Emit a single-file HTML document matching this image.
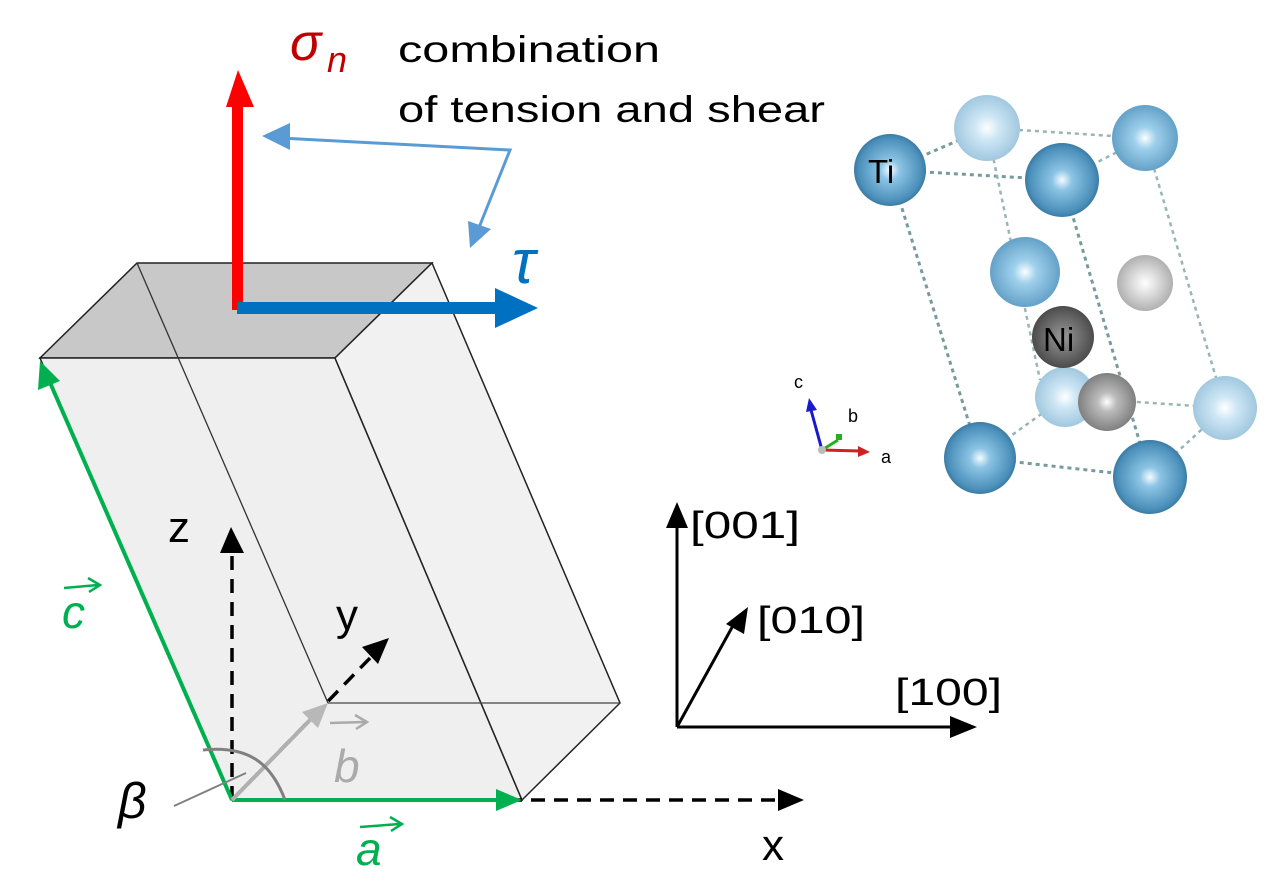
<!DOCTYPE html>
<html><head><meta charset="utf-8"><style>
html,body{margin:0;padding:0;background:#fff;}
svg{display:block;}
text{font-family:"Liberation Sans","DejaVu Sans",sans-serif;}
</style></head><body>
<svg width="1278" height="884" viewBox="0 0 1278 884" xmlns="http://www.w3.org/2000/svg">
<defs>
<radialGradient id="bd" cx="0.5" cy="0.5" r="0.55"><stop offset="0" stop-color="#f4fcff"/><stop offset="0.25" stop-color="#8cc4e4"/><stop offset="0.8" stop-color="#4a8fba"/><stop offset="1" stop-color="#2f6a90"/></radialGradient>
<radialGradient id="bm" cx="0.5" cy="0.5" r="0.55"><stop offset="0" stop-color="#fbfeff"/><stop offset="0.3" stop-color="#9fd0ec"/><stop offset="1" stop-color="#5b9ac2"/></radialGradient>
<radialGradient id="bl" cx="0.5" cy="0.5" r="0.55"><stop offset="0" stop-color="#ffffff"/><stop offset="0.35" stop-color="#cde6f4"/><stop offset="1" stop-color="#9ac3dc"/></radialGradient>
<radialGradient id="gl" cx="0.5" cy="0.5" r="0.55"><stop offset="0" stop-color="#fff"/><stop offset="0.4" stop-color="#ddd"/><stop offset="1" stop-color="#a8a8a8"/></radialGradient>
<radialGradient id="gm" cx="0.5" cy="0.5" r="0.55"><stop offset="0" stop-color="#fff"/><stop offset="0.3" stop-color="#bbb"/><stop offset="1" stop-color="#777"/></radialGradient>
<radialGradient id="gd" cx="0.5" cy="0.5" r="0.6"><stop offset="0" stop-color="#999"/><stop offset="1" stop-color="#3c3c3c"/></radialGradient>
</defs>

<!-- prism -->
<polygon points="137,263 432,263 335,358 40,358" fill="#c8c8c8" stroke="#222" stroke-width="1.5"/>
<polygon points="40,358 335,358 522,800 232,800" fill="#efefef" stroke="#222" stroke-width="1.5"/>
<polygon points="335,358 432,263 620,703 522,800" fill="#f1f1f1" stroke="#222" stroke-width="1.5"/>
<line x1="137" y1="263" x2="328" y2="703" stroke="#333" stroke-width="1.3"/>
<line x1="328" y1="703" x2="620" y2="703" stroke="#444" stroke-width="1.3"/>

<!-- stress arrows -->
<rect x="232" y="105" width="11" height="205" fill="#ff0000"/>
<polygon points="226,107 238,70 254,107" fill="#ff0000"/>
<rect x="237" y="302" width="260" height="12" fill="#0070c0"/>
<polygon points="495,288 538,308 495,328" fill="#0070c0"/>
<polyline points="280,138 510,150 478,230" fill="none" stroke="#5b9bd5" stroke-width="3"/>
<polygon points="262,136 290,123 290,150" fill="#5b9bd5"/>
<polygon points="470,248 468,221 491,229" fill="#5b9bd5"/>

<text x="290" y="60" font-family="Liberation Serif" font-style="italic" font-size="52" fill="#c00000">σ</text>
<text x="327" y="72" font-family="Liberation Serif" font-style="italic" font-size="36" fill="#c00000">n</text>
<text x="398" y="62" font-size="37" fill="#000" textLength="262" lengthAdjust="spacingAndGlyphs">combination</text>
<text x="398" y="122" font-size="37" fill="#000" textLength="427" lengthAdjust="spacingAndGlyphs">of tension and shear</text>
<text x="512" y="283" font-family="Liberation Serif" font-style="italic" font-size="62" fill="#0070c0">τ</text>

<!-- local axes -->
<g stroke="#000" stroke-width="3.5" stroke-dasharray="14,9" fill="none">
<line x1="232" y1="800" x2="232" y2="550"/>
<line x1="232" y1="800" x2="372" y2="656"/>
<line x1="232" y1="800" x2="780" y2="800"/>
</g>
<polygon points="220,553 231,527 244,553" fill="#000"/>
<polygon points="362,647 389,638 378,664" fill="#000"/>
<polygon points="778,789 804,800 778,811" fill="#000"/>
<text x="168" y="542" font-size="44">z</text>
<text x="336" y="630" font-size="44">y</text>
<text x="762" y="860" font-size="44">x</text>

<!-- green lattice -->
<line x1="232" y1="800" x2="48" y2="378" stroke="#00b050" stroke-width="4"/>
<polygon points="40,361 38,390 60,381" fill="#00b050"/>
<line x1="232" y1="800" x2="500" y2="800" stroke="#00b050" stroke-width="4"/>
<polygon points="496,789 522,800 496,811" fill="#00b050"/>
<line x1="232" y1="800" x2="312" y2="718" stroke="#b0b0b0" stroke-width="4"/>
<polygon points="328,703 302,712 318,728" fill="#b8b8b8"/>
<path d="M203,750 C250,745 272,765 285,800" fill="none" stroke="#808080" stroke-width="3"/>
<line x1="174" y1="806" x2="246" y2="773" stroke="#808080" stroke-width="2"/>

<text x="62" y="628" font-size="46" font-style="italic" fill="#00b050">c</text>
<line x1="64" y1="588" x2="98" y2="585" stroke="#00b050" stroke-width="2.5"/>
<polyline points="88,578 100,585 89,592" fill="none" stroke="#00b050" stroke-width="2.5"/>
<text x="356" y="865" font-size="46" font-style="italic" fill="#00b050">a</text>
<line x1="360" y1="827" x2="400" y2="824" stroke="#00b050" stroke-width="2.5"/>
<polyline points="390,817 402,824 391,831" fill="none" stroke="#00b050" stroke-width="2.5"/>
<text x="334" y="782" font-size="46" font-style="italic" fill="#aaaaaa">b</text>
<line x1="330" y1="723" x2="365" y2="722" stroke="#aaaaaa" stroke-width="2.5"/>
<polyline points="355,715 367,722 356,729" fill="none" stroke="#aaaaaa" stroke-width="2.5"/>
<text x="118" y="818" font-family="Liberation Serif" font-style="italic" font-size="50">β</text>

<!-- right axes -->
<g stroke="#000" stroke-width="3" fill="none">
<line x1="677" y1="727" x2="677" y2="525"/>
<line x1="677" y1="727" x2="955" y2="727"/>
<line x1="677" y1="727" x2="735" y2="622"/>
</g>
<polygon points="666,528 677,502 688,528" fill="#000"/>
<polygon points="950,716 977,727 950,738" fill="#000"/>
<polygon points="726,624 748,607 744,634" fill="#000"/>
<text x="690" y="538" font-size="38" textLength="110" lengthAdjust="spacingAndGlyphs">[001]</text>
<text x="757" y="633" font-size="38" textLength="108" lengthAdjust="spacingAndGlyphs">[010]</text>
<text x="895" y="705" font-size="38" textLength="107" lengthAdjust="spacingAndGlyphs">[100]</text>

<!-- crystal dotted bonds -->
<g stroke="#5f8a8a" stroke-width="3" stroke-dasharray="4,4" fill="none" opacity="0.85">
<line x1="890" y1="170" x2="1062" y2="180"/>
<line x1="890" y1="170" x2="987" y2="128"/>
<line x1="890" y1="170" x2="980" y2="458"/>
<line x1="1062" y1="180" x2="1150" y2="477"/>
<line x1="980" y1="458" x2="1150" y2="477"/>
</g>
<g stroke="#9ab5b5" stroke-width="2.5" stroke-dasharray="4,4" fill="none">
<line x1="987" y1="128" x2="1145" y2="138"/>
<line x1="1145" y1="138" x2="1062" y2="180"/>
<line x1="987" y1="128" x2="1040" y2="380"/>
<line x1="1145" y1="138" x2="1225" y2="408"/>
<line x1="980" y1="458" x2="1065" y2="397"/>
<line x1="1065" y1="397" x2="1225" y2="408"/>
<line x1="1225" y1="408" x2="1150" y2="477"/>
</g>
<!-- atoms -->
<circle cx="987" cy="128" r="33" fill="url(#bl)"/>
<circle cx="1145" cy="138" r="33" fill="url(#bm)"/>
<circle cx="890" cy="170" r="36" fill="url(#bd)"/>
<circle cx="1062" cy="180" r="37" fill="url(#bd)"/>
<circle cx="1025" cy="272" r="35" fill="url(#bm)"/>
<circle cx="1145" cy="283" r="28" fill="url(#gl)"/>
<circle cx="1065" cy="397" r="30" fill="url(#bl)"/>
<circle cx="1063" cy="337" r="31" fill="url(#gd)"/>
<circle cx="1107" cy="402" r="29" fill="url(#gm)"/>
<circle cx="1225" cy="408" r="32" fill="url(#bl)"/>
<circle cx="980" cy="458" r="36" fill="url(#bd)"/>
<circle cx="1150" cy="477" r="37" fill="url(#bd)"/>
<text x="868" y="183" font-size="33">Ti</text>
<text x="1043" y="351" font-size="33">Ni</text>

<!-- small axes -->
<line x1="822" y1="450" x2="811" y2="410" stroke="#1a1acc" stroke-width="3"/>
<polygon points="806,412 809,398 817,410" fill="#1a1acc"/>
<line x1="822" y1="450" x2="860" y2="451" stroke="#d02020" stroke-width="3"/>
<polygon points="858,446 870,452 858,457" fill="#d02020"/>
<line x1="822" y1="450" x2="838" y2="440" stroke="#20b020" stroke-width="3"/>
<rect x="836" y="434" width="6" height="6" fill="#20b020"/>
<circle cx="822" cy="450" r="4" fill="#bbb"/>
<text x="794" y="388" font-size="18">c</text>
<text x="848" y="422" font-size="18">b</text>
<text x="881" y="463" font-size="18">a</text>
</svg>
</body></html>
